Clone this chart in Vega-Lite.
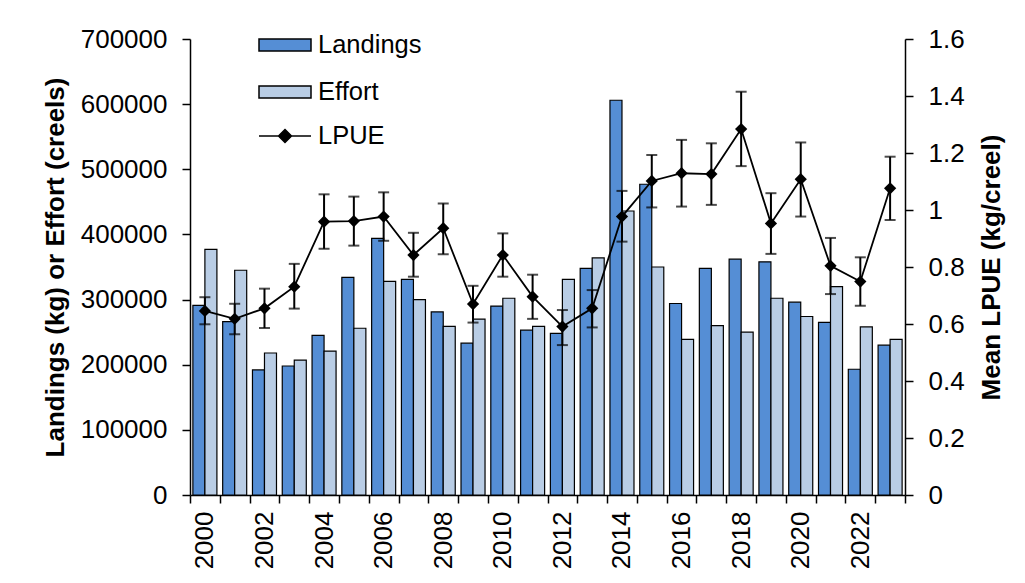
{
  "$schema": "https://vega.github.io/schema/vega-lite/v6.json",
  "width": 715,
  "height": 456,
  "autosize": {"type": "none"},
  "padding": {"left": 190, "top": 39, "right": 120, "bottom": 88},
  "background": "white",
  "config": {
    "view": {"stroke": null},
    "font": "Liberation Sans",
    "axis": {"labelFont": "Liberation Sans", "titleFont": "Liberation Sans", "labelColor": "black", "titleColor": "black", "domainColor": "black", "tickColor": "black", "grid": false},
    "legend": {"labelFont": "Liberation Sans", "labelColor": "black"}
  },
  "datasets": {
    "bars": [
      {"year": 2000, "series": "Landings", "value": 291000}, {"year": 2000, "series": "Effort", "value": 377000},
      {"year": 2001, "series": "Landings", "value": 266000}, {"year": 2001, "series": "Effort", "value": 345000},
      {"year": 2002, "series": "Landings", "value": 192000}, {"year": 2002, "series": "Effort", "value": 218000},
      {"year": 2003, "series": "Landings", "value": 198000}, {"year": 2003, "series": "Effort", "value": 207000},
      {"year": 2004, "series": "Landings", "value": 245000}, {"year": 2004, "series": "Effort", "value": 221000},
      {"year": 2005, "series": "Landings", "value": 334000}, {"year": 2005, "series": "Effort", "value": 256000},
      {"year": 2006, "series": "Landings", "value": 394000}, {"year": 2006, "series": "Effort", "value": 328000},
      {"year": 2007, "series": "Landings", "value": 331000}, {"year": 2007, "series": "Effort", "value": 300000},
      {"year": 2008, "series": "Landings", "value": 281000}, {"year": 2008, "series": "Effort", "value": 259000},
      {"year": 2009, "series": "Landings", "value": 233000}, {"year": 2009, "series": "Effort", "value": 270000},
      {"year": 2010, "series": "Landings", "value": 290000}, {"year": 2010, "series": "Effort", "value": 302000},
      {"year": 2011, "series": "Landings", "value": 253000}, {"year": 2011, "series": "Effort", "value": 259000},
      {"year": 2012, "series": "Landings", "value": 248000}, {"year": 2012, "series": "Effort", "value": 331000},
      {"year": 2013, "series": "Landings", "value": 348000}, {"year": 2013, "series": "Effort", "value": 364000},
      {"year": 2014, "series": "Landings", "value": 606000}, {"year": 2014, "series": "Effort", "value": 436000},
      {"year": 2015, "series": "Landings", "value": 477000}, {"year": 2015, "series": "Effort", "value": 350000},
      {"year": 2016, "series": "Landings", "value": 294000}, {"year": 2016, "series": "Effort", "value": 239000},
      {"year": 2017, "series": "Landings", "value": 348000}, {"year": 2017, "series": "Effort", "value": 260000},
      {"year": 2018, "series": "Landings", "value": 362000}, {"year": 2018, "series": "Effort", "value": 250000},
      {"year": 2019, "series": "Landings", "value": 358000}, {"year": 2019, "series": "Effort", "value": 302000},
      {"year": 2020, "series": "Landings", "value": 296000}, {"year": 2020, "series": "Effort", "value": 274000},
      {"year": 2021, "series": "Landings", "value": 265000}, {"year": 2021, "series": "Effort", "value": 320000},
      {"year": 2022, "series": "Landings", "value": 193000}, {"year": 2022, "series": "Effort", "value": 258000},
      {"year": 2023, "series": "Landings", "value": 230000}, {"year": 2023, "series": "Effort", "value": 239000}
    ],
    "lpue": [
      {"year": 2000, "lpue": 0.646, "lo": 0.599, "hi": 0.694},
      {"year": 2001, "lpue": 0.618, "lo": 0.564, "hi": 0.671},
      {"year": 2002, "lpue": 0.655, "lo": 0.586, "hi": 0.724},
      {"year": 2003, "lpue": 0.731, "lo": 0.654, "hi": 0.811},
      {"year": 2004, "lpue": 0.959, "lo": 0.864, "hi": 1.055},
      {"year": 2005, "lpue": 0.961, "lo": 0.875, "hi": 1.047},
      {"year": 2006, "lpue": 0.977, "lo": 0.892, "hi": 1.062},
      {"year": 2007, "lpue": 0.842, "lo": 0.766, "hi": 0.920},
      {"year": 2008, "lpue": 0.936, "lo": 0.845, "hi": 1.023},
      {"year": 2009, "lpue": 0.670, "lo": 0.605, "hi": 0.734},
      {"year": 2010, "lpue": 0.842, "lo": 0.766, "hi": 0.918},
      {"year": 2011, "lpue": 0.696, "lo": 0.618, "hi": 0.773},
      {"year": 2012, "lpue": 0.591, "lo": 0.526, "hi": 0.649},
      {"year": 2013, "lpue": 0.655, "lo": 0.588, "hi": 0.719},
      {"year": 2014, "lpue": 0.977, "lo": 0.889, "hi": 1.067},
      {"year": 2015, "lpue": 1.102, "lo": 1.009, "hi": 1.193},
      {"year": 2016, "lpue": 1.129, "lo": 1.012, "hi": 1.246},
      {"year": 2017, "lpue": 1.126, "lo": 1.018, "hi": 1.234},
      {"year": 2018, "lpue": 1.284, "lo": 1.154, "hi": 1.415},
      {"year": 2019, "lpue": 0.953, "lo": 0.846, "hi": 1.059},
      {"year": 2020, "lpue": 1.108, "lo": 0.977, "hi": 1.237},
      {"year": 2021, "lpue": 0.804, "lo": 0.705, "hi": 0.902},
      {"year": 2022, "lpue": 0.749, "lo": 0.664, "hi": 0.834},
      {"year": 2023, "lpue": 1.076, "lo": 0.965, "hi": 1.187}
    ]
  },
  "layer": [
    {
      "data": {"name": "bars"},
      "mark": {"type": "bar", "stroke": "black", "strokeWidth": 1.2},
      "encoding": {
        "x": {
          "field": "year", "type": "ordinal",
          "scale": {"paddingInner": 0, "paddingOuter": 0},
          "axis": {
            "title": null, "labelAngle": -90, "labelAlign": "right", "labelBaseline": "middle",
            "labelFontSize": 26, "labelPadding": 8, "tickBand": "extent", "tickSize": 8,
            "tickWidth": 1.5, "domainWidth": 1.5, "labelOverlap": false,
            "labelExpr": "datum.value % 2 == 0 ? datum.label : ''"
          }
        },
        "xOffset": {"field": "series", "type": "nominal", "scale": {"domain": ["Landings", "Effort"], "paddingOuter": 0.24, "paddingInner": 0}},
        "y": {
          "field": "value", "type": "quantitative",
          "scale": {"domain": [0, 700000]},
          "axis": {
            "title": "Landings (kg) or Effort (creels)", "titleFontSize": 26, "titleFontWeight": "bold",
            "titleX": -135, "titleY": 228, "titleBaseline": "middle", "titleAlign": "center", "titleAngle": -90,
            "values": [0, 100000, 200000, 300000, 400000, 500000, 600000, 700000],
            "format": "d", "labelFontSize": 26, "tickSize": 8, "labelPadding": 15,
            "domainWidth": 1.5, "tickWidth": 1.5
          }
        },
        "fill": {
          "field": "series", "type": "nominal",
          "scale": {"domain": ["Landings", "Effort"], "range": ["#558ED5", "#B9CDE5"]},
          "legend": {
            "title": null, "orient": "none", "legendX": 68, "legendY": -21, "direction": "vertical",
            "symbolType": "M-1,-0.23H1V0.23H-1Z", "symbolSize": 2704,
            "symbolStrokeColor": "black", "symbolStrokeWidth": 1.5,
            "labelFontSize": 25.5, "labelOffset": 6, "rowPadding": 6, "padding": 0
          }
        }
      }
    },
    {
      "data": {"name": "lpue"},
      "encoding": {"x": {"field": "year", "type": "ordinal"}},
      "layer": [
        {
          "mark": {"type": "rule", "color": "black", "strokeWidth": 2},
          "encoding": {
            "y": {"field": "lo", "type": "quantitative", "title": "Mean LPUE (kg/creel)", "scale": {"domain": [0, 1.6]},
              "axis": {
                "orient": "right", "title": "Mean LPUE (kg/creel)", "titleFontSize": 26, "titleFontWeight": "bold",
                "titleX": 86, "titleY": 228, "titleBaseline": "middle", "titleAlign": "center", "titleAngle": -90,
                "values": [0, 0.2, 0.4, 0.6, 0.8, 1, 1.2, 1.4, 1.6], "format": ".1~f",
                "labelFontSize": 26, "tickSize": 8, "labelPadding": 15, "domainWidth": 1.5, "tickWidth": 1.5
              }
            },
            "y2": {"field": "hi"}
          }
        },
        {
          "mark": {"type": "tick", "color": "black", "size": 11, "thickness": 2},
          "encoding": {"y": {"field": "lo", "type": "quantitative", "title": "Mean LPUE (kg/creel)"}}
        },
        {
          "mark": {"type": "tick", "color": "black", "size": 11, "thickness": 2},
          "encoding": {"y": {"field": "hi", "type": "quantitative", "title": "Mean LPUE (kg/creel)"}}
        },
        {
          "mark": {"type": "line", "strokeWidth": 1.8},
          "encoding": {
            "y": {"field": "lpue", "type": "quantitative", "title": "Mean LPUE (kg/creel)"},
            "stroke": {
              "datum": "LPUE", "type": "nominal",
              "scale": {"domain": ["LPUE"], "range": ["black"]},
              "legend": {
                "title": null, "orient": "none", "legendX": 68, "legendY": 70,
                "symbolType": "M-1,0H1M0,-0.25L0.25,0L0,0.25L-0.25,0Z", "symbolSize": 2704,
                "symbolFillColor": "black", "symbolStrokeColor": "black", "symbolStrokeWidth": 1.5,
                "labelFontSize": 25.5, "labelOffset": 6, "padding": 0
              }
            }
          }
        },
        {
          "mark": {"type": "point", "shape": "diamond", "filled": true, "size": 150, "color": "black", "opacity": 1},
          "encoding": {"y": {"field": "lpue", "type": "quantitative", "title": "Mean LPUE (kg/creel)"}}
        }
      ]
    }
  ],
  "resolve": {"scale": {"y": "independent"}}
}
